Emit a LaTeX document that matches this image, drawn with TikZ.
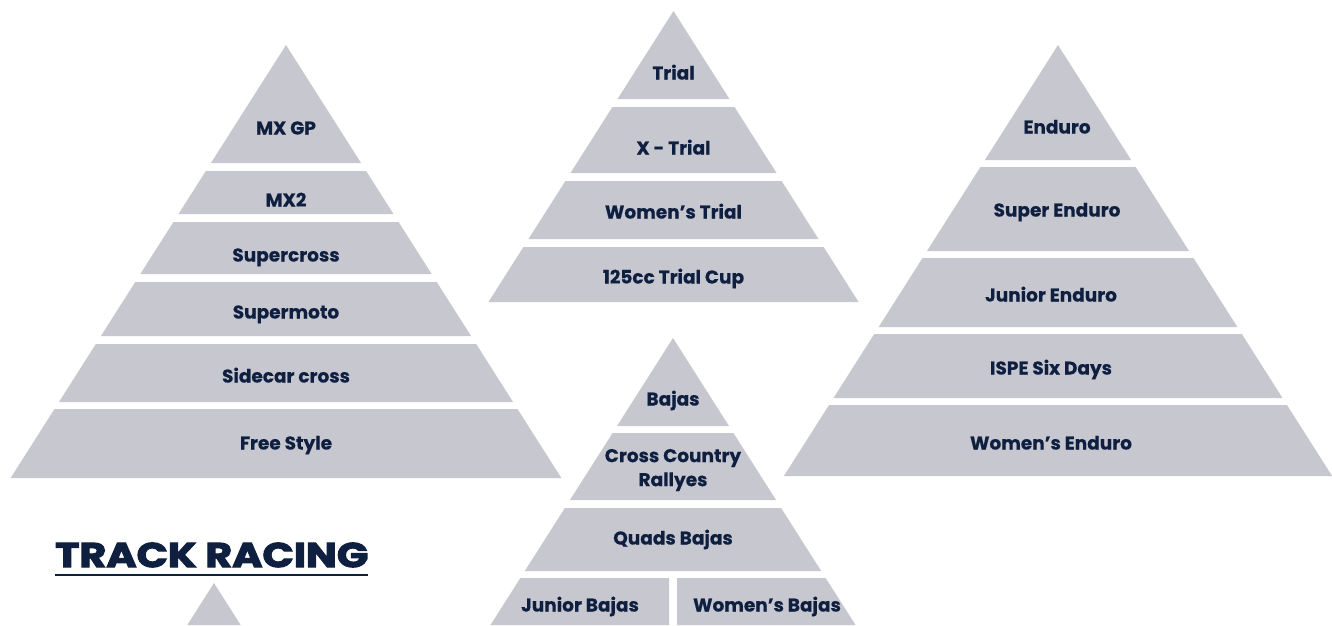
\documentclass[tikz,border=0pt]{standalone}
\usepackage{fontspec}
\setmainfont{Poppins}[BoldFeatures={FakeBold=0.4}]
\newfontfamily\heavyfont{Poppins}[BoldFeatures={FakeBold=3}]
\definecolor{bandgray}{HTML}{C7C7D0}
\definecolor{navy}{HTML}{0E1F3F}
\tikzset{
  lbl/.style={text=navy, font=\fontsize{18.5}{24}\selectfont\bfseries, align=center, inner sep=0pt, text height=13pt, text depth=0pt},
  lbltwo/.style={text=navy, font=\fontsize{18.5}{24}\selectfont\bfseries, align=center, inner sep=0pt},
}
% apex x, apex y, top y, bottom y
\newcommand\pband[4]{%
  \fill[bandgray] ({#1-0.636*(#3-#2)},#3) -- ({#1+0.636*(#3-#2)},#3) -- ({#1+0.636*(#4-#2)},#4) -- ({#1-0.636*(#4-#2)},#4) -- cycle;}
\begin{document}
\begin{tikzpicture}[x=1pt,y=-1pt]
\useasboundingbox (0,0) rectangle (1332,625);
% ---- left pyramid (motocross)
\pband{286}{45}{45}{163}
\pband{286}{45}{171}{214}
\pband{286}{45}{222}{274}
\pband{286}{45}{282}{336}
\pband{286}{45}{344}{402}
\pband{286}{45}{409}{478}
\node[lbl] (mxgp) at (286,128) {MX GP};
\node[lbl] (mx2) at (286,200) {MX2};
\node[lbl] (sx) at (286,255) {Supercross};
\node[lbl] (sm) at (286,312) {Supermoto};
\node[lbl] (sc) at (286,376) {Sidecar cross};
\node[lbl] (fs) at (286,443) {Free Style};
% ---- trial pyramid
\pband{673.5}{11}{11}{99}
\pband{673.5}{11}{107}{173}
\pband{673.5}{11}{181}{239}
\pband{673.5}{11}{247}{302}
\node[lbl] (trial) at (673.5,73) {Trial};
\node[lbl] (xtrial) at (673.5,148) {X - Trial};
\node[lbl] (wtrial) at (673.5,212) {Women’s Trial};
\node[lbl] (tcup) at (673.5,277) {125cc Trial Cup};
% ---- bajas pyramid
\pband{673}{338}{338}{426}
\pband{673}{338}{433}{500}
\pband{673}{338}{508}{571}
\fill[bandgray] ({673-0.636*(578-338)},578) -- (669,578) -- (669,625) -- ({673-0.636*(625-338)},625) -- cycle;
\fill[bandgray] (677,578) -- ({673+0.636*(578-338)},578) -- ({673+0.636*(625-338)},625) -- (677,625) -- cycle;
\node[lbl] (bajas) at (673,399) {Bajas};
\node[lbltwo] (ccr) at (673,470) {Cross Country\\Rallyes};
\node[lbl] (qb) at (673,538) {Quads Bajas};
\node[lbl] (jb) at (580,605) {Junior Bajas};
\node[lbl] (wb) at (767,605) {Women’s Bajas};
% ---- enduro pyramid
\pband{1058}{45}{45}{160}
\pband{1058}{45}{167}{251}
\pband{1058}{45}{258}{327}
\pband{1058}{45}{334}{398}
\pband{1058}{45}{405}{476}
\node[lbl] (end) at (1057,127) {Enduro};
\node[lbl] (send) at (1057,210) {Super Enduro};
\node[lbl] (jend) at (1051,295) {Junior Enduro};
\node[lbl] (ispe) at (1051,368) {ISPE Six Days};
\node[lbl] (wend) at (1051,443) {Women’s Enduro};
% ---- track racing
\node[text=navy, inner sep=0pt, anchor=south west] (tr) at (55,567.5) {\resizebox{313pt}{24.5pt}{\heavyfont\bfseries TRACK RACING}};
\draw[navy, line width=1.6pt] (55,575) coordinate (ul1) -- (368,575) coordinate (ul2);
\fill[bandgray] (214,583) -- ({214+0.636*42},625) -- ({214-0.636*42},625) -- cycle;
\end{tikzpicture}
\end{document}
